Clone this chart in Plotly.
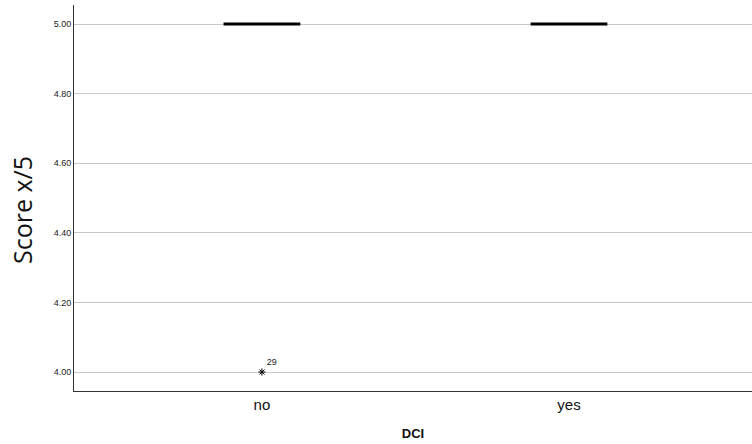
import plotly.graph_objects as go

categories = ["no", "yes"]
q1 = [5.0, 5.0]
median = [5.0, 5.0]
q3 = [5.0, 5.0]
lower = [5.0, 5.0]
upper = [5.0, 5.0]
outlier_cat = ["no"]
outlier_val = [4.0]
outlier_id = ["29"]
y_ticks = [4.0, 4.2, 4.4, 4.6, 4.8, 5.0]

fig = go.Figure()
fig.add_trace(go.Box(
    x=categories, q1=q1, median=median, q3=q3,
    lowerfence=lower, upperfence=upper,
    width=0.25, whiskerwidth=0,
    fillcolor="rgba(0,0,0,0)",
    line=dict(color="black", width=3),
    boxpoints=False, showlegend=False, hoverinfo="skip",
))
fig.add_trace(go.Scatter(
    x=outlier_cat, y=outlier_val, mode="markers+text",
    marker=dict(symbol="asterisk-open", size=6, color="black",
                line=dict(color="black", width=1)),
    text=outlier_id, textposition="top right",
    textfont=dict(family="Liberation Sans, Arial", size=9, color="#222"),
    showlegend=False,
))

fig.add_annotation(
    text="Score x/5", textangle=-90,
    xref="paper", yref="paper", x=(22 - 74) / 678, y=(391 - 210) / 386,
    xanchor="center", yanchor="middle", showarrow=False,
    font=dict(family="Open Sans, Noto Sans, sans-serif", size=25, color="#111"),
)

fig.update_layout(
    width=752, height=444,
    margin=dict(l=74, r=0, t=5, b=53),
    paper_bgcolor="white", plot_bgcolor="white",
    font=dict(family="Liberation Sans, Arial, sans-serif", color="#222"),
    xaxis=dict(
        type="category", categoryarray=categories,
        range=[-0.612, 1.596],
        showline=True, linecolor="#333", linewidth=1,
        showgrid=False, ticks="", zeroline=False,
        tickfont=dict(size=15, color="#111"),
        title=dict(text="<b>DCI</b>", font=dict(size=13, color="#111"), standoff=16),
    ),
    yaxis=dict(
        range=[3.9454, 5.0546],
        tickvals=y_ticks, ticktext=[f"{v:.2f}" for v in y_ticks],
        showline=True, linecolor="#333", linewidth=1,
        showgrid=True, gridcolor="#c8c8c8", gridwidth=1,
        ticks="", zeroline=False,
        tickfont=dict(size=9, color="#222"),
    ),
)
fig.write_html("out.html")
